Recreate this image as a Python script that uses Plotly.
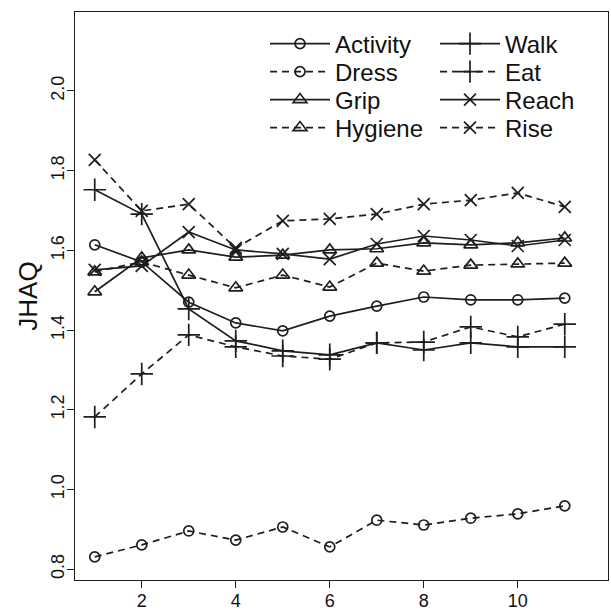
import plotly.graph_objects as go

# Assessment occasions
visits = [1, 2, 3, 4, 5, 6, 7, 8, 9, 10, 11]

# Mean JHAQ domain scores per visit
activity = [1.614, 1.571, 1.470, 1.418, 1.398, 1.435, 1.460, 1.483, 1.476, 1.476, 1.480]
dress = [0.831, 0.861, 0.896, 0.873, 0.906, 0.856, 0.923, 0.911, 0.928, 0.939, 0.959]
grip = [1.496, 1.581, 1.601, 1.583, 1.588, 1.601, 1.604, 1.619, 1.614, 1.619, 1.631]
hygiene = [1.546, 1.571, 1.538, 1.506, 1.538, 1.508, 1.568, 1.548, 1.563, 1.566, 1.568]
walk = [1.752, 1.691, 1.453, 1.373, 1.348, 1.338, 1.368, 1.350, 1.368, 1.358, 1.358]
eat = [1.182, 1.290, 1.388, 1.358, 1.335, 1.327, 1.368, 1.370, 1.408, 1.383, 1.415]
reach = [1.551, 1.561, 1.646, 1.601, 1.591, 1.578, 1.616, 1.636, 1.626, 1.611, 1.626]
rise = [1.827, 1.699, 1.716, 1.606, 1.674, 1.679, 1.691, 1.716, 1.726, 1.744, 1.709]

x_ticks = [2, 4, 6, 8, 10]
y_ticks = [0.8, 1.0, 1.2, 1.4, 1.6, 1.8, 2.0]
y_tick_text = ["0.8", "1.0", "1.2", "1.4", "1.6", "1.8", "2.0"]

INK = "#1e1e1e"
FONT = "Liberation Sans, Arial, Helvetica, sans-serif"
DASH = "7px,5px"

W, H = 611, 613
M_L, M_R, M_T, M_B = 75, 3, 12, 33

# name, values, marker symbol, marker size, dashed?
series = [
    ("Activity", activity, "circle-open", 10, False),
    ("Dress", dress, "circle-open", 10, True),
    ("Grip", grip, "triangle-up-open", 12, False),
    ("Hygiene", hygiene, "triangle-up-open", 12, True),
    ("Walk", walk, "cross-thin-open", 16, False),
    ("Eat", eat, "cross-thin-open", 16, True),
    ("Reach", reach, "x-thin-open", 12, False),
    ("Rise", rise, "x-thin-open", 12, True),
]

# Key laid out as two columns of four rows, one small legend per entry
col_left_px = [265, 435]
row_mid_px = [44, 72, 100, 128]

fig = go.Figure()
layout_legends = {}
for i, (name, vals, sym, size, dashed) in enumerate(series):
    leg_id = "legend" if i == 0 else f"legend{i + 1}"
    fig.add_trace(go.Scatter(
        x=visits, y=vals, name=name, mode="lines+markers",
        line=dict(color=INK, width=1.7, dash=DASH if dashed else "solid"),
        marker=dict(symbol=sym, size=size, color=INK,
                    line=dict(color=INK, width=1.7)),
        legend=leg_id,
    ))
    col, row = divmod(i, 4)
    px_x = col_left_px[col]
    px_y = row_mid_px[row]
    layout_legends[leg_id] = dict(
        x=(px_x - M_L) / (W - M_L - M_R), xanchor="left",
        y=1 - (px_y - M_T) / (H - M_T - M_B), yanchor="middle",
        font=dict(family=FONT, size=24, color="#111"),
        bgcolor="rgba(0,0,0,0)", borderwidth=0, itemwidth=60,
    )

fig.update_layout(
    width=W, height=H,
    margin=dict(l=M_L, r=M_R, t=M_T, b=M_B),
    paper_bgcolor="white", plot_bgcolor="white",
    font=dict(family=FONT, color="#111"),
    showlegend=True,
    **layout_legends,
)

fig.update_xaxes(
    range=[0.58, 11.92], tickvals=x_ticks,
    ticks="outside", ticklen=7, tickwidth=1, tickcolor=INK,
    showline=True, linecolor=INK, linewidth=1, mirror=True,
    showgrid=False, zeroline=False, ticklabelstandoff=-3,
    tickfont=dict(family=FONT, size=18, color="#111"),
)
fig.update_yaxes(
    range=[0.773, 2.198], tickvals=y_ticks, ticktext=y_tick_text,
    tickangle=-90,
    ticks="outside", ticklen=7, tickwidth=1, tickcolor=INK,
    showline=True, linecolor=INK, linewidth=1, mirror=True,
    showgrid=False, zeroline=False, ticklabelstandoff=-4,
    tickfont=dict(family=FONT, size=18, color="#111"),
    title=dict(text="JHAQ", font=dict(family=FONT, size=26, color="#111"), standoff=2),
)

fig.write_html("out.html")
